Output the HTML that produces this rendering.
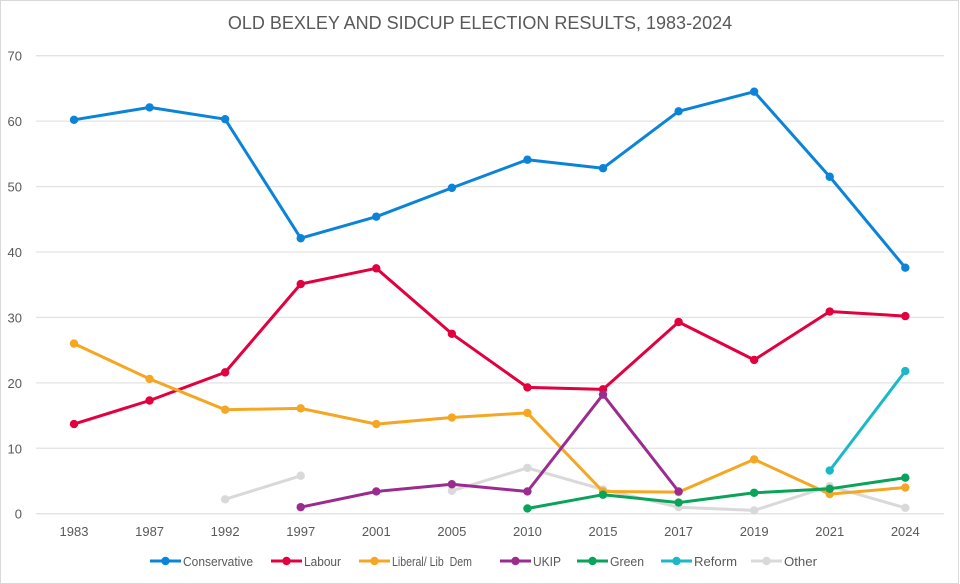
<!DOCTYPE html>
<html><head><meta charset="utf-8"><style>
html,body{margin:0;padding:0;background:#fff;}
svg{display:block;font-family:"Liberation Sans",sans-serif;}
</style></head><body>
<svg id="c" width="960" height="584" viewBox="0 0 960 584" xmlns="http://www.w3.org/2000/svg">
<rect x="0.5" y="0.5" width="958" height="583" fill="#fff" stroke="#d9d9d9"/>
<text x="480" y="29" text-anchor="middle" font-size="18" fill="#595959">OLD BEXLEY AND SIDCUP ELECTION RESULTS, 1983-2024</text>
<g id="g"></g>
</svg>
<script>
var ns="http://www.w3.org/2000/svg",g=document.getElementById("g");
function el(t,a,txt){var e=document.createElementNS(ns,t);for(var k in a)e.setAttribute(k,a[k]);if(txt!=null)e.textContent=txt;g.appendChild(e);return e;}
var y0=513.7,yt=55.7,x0=74,dx=(905.3-74)/11;
function Y(v){return y0-(y0-yt)*v/70;}function X(i){return x0+dx*i;}
for(var v=0;v<=70;v+=10){el("line",{x1:36,x2:944,y1:Y(v),y2:Y(v),stroke:"#e3e3e3","stroke-width":1.3});
el("text",{x:22,y:Y(v)+5,"text-anchor":"end","font-size":13,fill:"#595959"},v);}
var yrs=[1983,1987,1992,1997,2001,2005,2010,2015,2017,2019,2021,2024];
yrs.forEach(function(y,i){el("text",{x:X(i),y:536,"text-anchor":"middle","font-size":13,fill:"#595959"},y);});
var N=null;
var S=[
["Other","#d9d9d9",[N,N,2.2,5.8,N,3.5,7.0,3.7,1.0,0.5,4.2,0.9]],
["Conservative","#0b84d8",[60.2,62.1,60.3,42.1,45.4,49.8,54.1,52.8,61.5,64.5,51.5,37.6]],
["Labour","#e3003f",[13.7,17.3,21.6,35.1,37.5,27.5,19.3,19.0,29.3,23.5,30.9,30.2]],
["Liberal/ Lib  Dem","#f5a623",[26.0,20.6,15.9,16.1,13.7,14.7,15.4,3.4,3.3,8.3,3.0,4.0]],
["UKIP","#9b2c8f",[N,N,N,1.0,3.4,4.5,3.4,18.2,3.4,N,N,N]],
["Green","#0aa35a",[N,N,N,N,N,N,0.8,2.9,1.7,3.2,3.8,5.5]],
["Reform","#1ab8c9",[N,N,N,N,N,N,N,N,N,N,6.6,21.8]]];
S.forEach(function(s){var d="",pen=false;
s[2].forEach(function(v,i){if(v==null){pen=false;return;}d+=(pen?"L":"M")+X(i).toFixed(1)+" "+Y(v).toFixed(1);pen=true;});
el("path",{d:d,fill:"none",stroke:s[1],"stroke-width":3,"stroke-linejoin":"round"});
s[2].forEach(function(v,i){if(v!=null)el("circle",{cx:X(i),cy:Y(v),r:4.2,fill:s[1]});});});
var L=[["Conservative","#0b84d8",150,70],["Labour","#e3003f",271,37],["Liberal/ Lib  Dem","#f5a623",359,80],["UKIP","#9b2c8f",500,28],["Green","#0aa35a",577,34],["Reform","#1ab8c9",661,43],["Other","#d9d9d9",751,33]];
L.forEach(function(l){el("line",{x1:l[2],x2:l[2]+31,y1:561,y2:561,stroke:l[1],"stroke-width":3});
el("circle",{cx:l[2]+15.5,cy:561,r:4.2,fill:l[1]});
var t=el("text",{x:l[2]+33,y:566,"font-size":13,fill:"#595959",textLength:l[3],lengthAdjust:"spacingAndGlyphs"},l[0]);t.style.whiteSpace="pre";});
</script>
</body></html>
